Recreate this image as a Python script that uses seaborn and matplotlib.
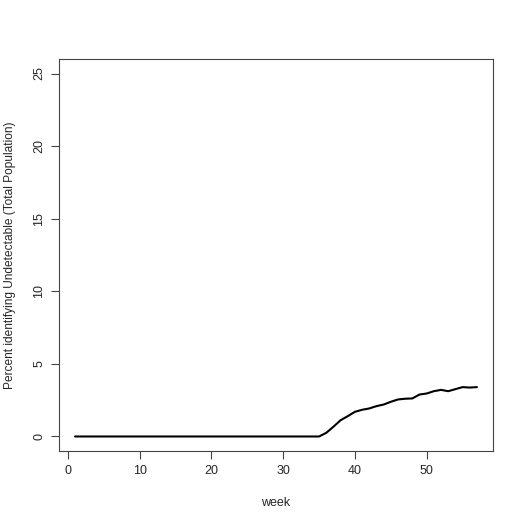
import numpy as np
import pandas as pd
import matplotlib
matplotlib.use("Agg")
import matplotlib.pyplot as plt
import seaborn as sns

# weekly share identifying as undetectable
weeks = list(range(1, 58))
pct_flat = [0.0] * 35
pct_rise = [0.25, 0.67, 1.12, 1.40, 1.70, 1.84, 1.93, 2.09, 2.20, 2.39, 2.55,
            2.60, 2.62, 2.89, 2.96, 3.12, 3.21, 3.12, 3.26, 3.40, 3.37, 3.40]
percent = pct_flat + pct_rise

df = pd.DataFrame({"week": weeks, "percent": percent})

sns.set_style("ticks")
plt.rcParams["font.family"] = ["Liberation Sans", "DejaVu Sans"]
plt.rcParams["font.size"] = 9.0

fig = plt.figure(figsize=(5.25, 5.25), dpi=100)
ax = fig.add_axes([59 / 525, 74 / 525, 434 / 525, 392 / 525])

sns.lineplot(data=df, x="week", y="percent", color="black", linewidth=1.5, ax=ax)

ax.set_xlim(1 - 0.04 * 56, 57 + 0.04 * 56)
ax.set_ylim(-1, 26)
ax.set_xticks([0, 10, 20, 30, 40, 50])
ax.set_yticks([0, 5, 10, 15, 20, 25])
ax.set_yticklabels(["0", "5", "10", "15", "20", "25"], rotation=90, va="center")
ax.tick_params(direction="out", length=6, width=0.8, color="#444444", pad=4)
for sp in ax.spines.values():
    sp.set_visible(True)
    sp.set_color("#444444")
    sp.set_linewidth(0.8)

ax.set_xlabel("")
ax.set_ylabel("")
fig.text(276 / 525, 1 - 503 / 525, "week", ha="center", va="center")
fig.text(10 / 525, 1 - 255 / 525, "Percent identifying Undetectable (Total Population)",
         ha="center", va="center", rotation=90, fontsize=8.6)

fig.savefig("out.png", dpi=100)
